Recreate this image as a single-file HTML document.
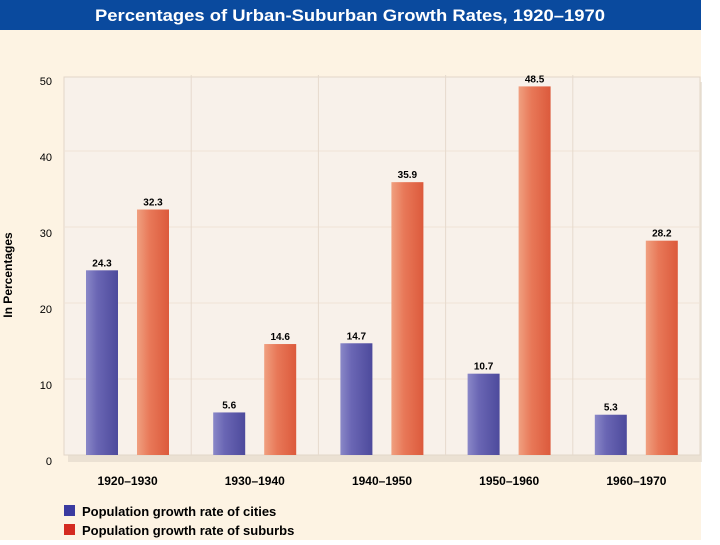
<!DOCTYPE html>
<html><head><meta charset="utf-8"><style>
body{margin:0;width:720px;height:540px;background:#fff;overflow:hidden;font-family:"Liberation Sans",sans-serif}
</style></head><body>
<svg width="720" height="540">
<defs>
<linearGradient id="gb" x1="0" x2="1"><stop offset="0" stop-color="#8a88c8"/><stop offset="0.35" stop-color="#6a66b4"/><stop offset="1" stop-color="#4d4a9c"/></linearGradient>
<linearGradient id="gr" x1="0" x2="1"><stop offset="0" stop-color="#f0a080"/><stop offset="0.4" stop-color="#e87858"/><stop offset="1" stop-color="#dc5a3c"/></linearGradient>
</defs>
<rect x="0" y="30" width="701" height="510" fill="#fdf3e3"/>
<rect x="0" y="0" width="701" height="30" fill="#0a4a9e"/>
<text x="350" y="21" text-anchor="middle" fill="#fff" font-size="17" font-weight="bold" textLength="510" lengthAdjust="spacingAndGlyphs">Percentages of Urban-Suburban Growth Rates, 1920–1970</text>
<rect x="68" y="82" width="634" height="380" fill="#e0d6c8" opacity="0.6"/>
<rect x="64" y="77" width="636" height="378" fill="#f8f1ea" stroke="#e2d6c8"/>
<g id="grid"></g><g id="bars"></g><g id="axes"></g>
<text transform="translate(12,275) rotate(-90)" text-anchor="middle" font-size="12" font-weight="bold">In Percentages</text>
<rect x="64" y="505" width="11" height="11" fill="#3a3aa0"/>
<text x="82" y="516" font-size="13" font-weight="bold">Population growth rate of cities</text>
<rect x="64" y="524" width="11" height="11" fill="#d42a20"/>
<text x="82" y="535" font-size="13" font-weight="bold">Population growth rate of suburbs</text>
</svg>
<script>
const categories=["1920–1930","1930–1940","1940–1950","1950–1960","1960–1970"];
const cities=[24.3,5.6,14.7,10.7,5.3];
const suburbs=[32.3,14.6,35.9,48.5,28.2];
const yTicks=[0,10,20,30,40,50];
const NS="http://www.w3.org/2000/svg";
const X0=64,W=636,Y0=455,Y1=75,YMAX=50;
const y=v=>Y0-(v/YMAX)*(Y0-Y1);
const gw=W/categories.length;
function mk(t,a,p){const e=document.createElementNS(NS,t);for(const k in a)e.setAttribute(k,a[k]);p.appendChild(e);return e;}
const grid=document.getElementById('grid'),bars=document.getElementById('bars'),axes=document.getElementById('axes');
yTicks.forEach(t=>{
 if(t>0&&t<YMAX){const l=mk('line',{x1:X0,x2:X0+W,y1:y(t),y2:y(t),stroke:'#efe3d6'},grid);
 
 }
 const tx=mk('text',{x:52,y:y(t)+10,'text-anchor':'end','font-size':11},axes);tx.textContent=t;
 
 
});
categories.forEach((c,i)=>{
 const gx=X0+i*gw;
 if(i>0){const d=mk('line',{x1:gx,x2:gx,y1:Y1,y2:Y0,stroke:'#e6dacd'},grid);
 
 }
 [[cities[i],22,'url(#gb)','city'],[suburbs[i],73,'url(#gr)','suburb']].forEach(([v,off,f,n])=>{
  const r=mk('rect',{x:gx+off,y:y(v),width:32,height:Y0-y(v),fill:f},bars);
  
  
  const t=mk('text',{x:gx+off+16,y:y(v)-4,'text-anchor':'middle','font-size':10,'font-weight':'bold'},bars);t.textContent=v;
  
  
 });
 const lb=mk('text',{x:gx+gw/2,y:485,'text-anchor':'middle','font-size':12,'font-weight':'bold'},axes);lb.textContent=c;
 
 
});
</script>
</body></html>
